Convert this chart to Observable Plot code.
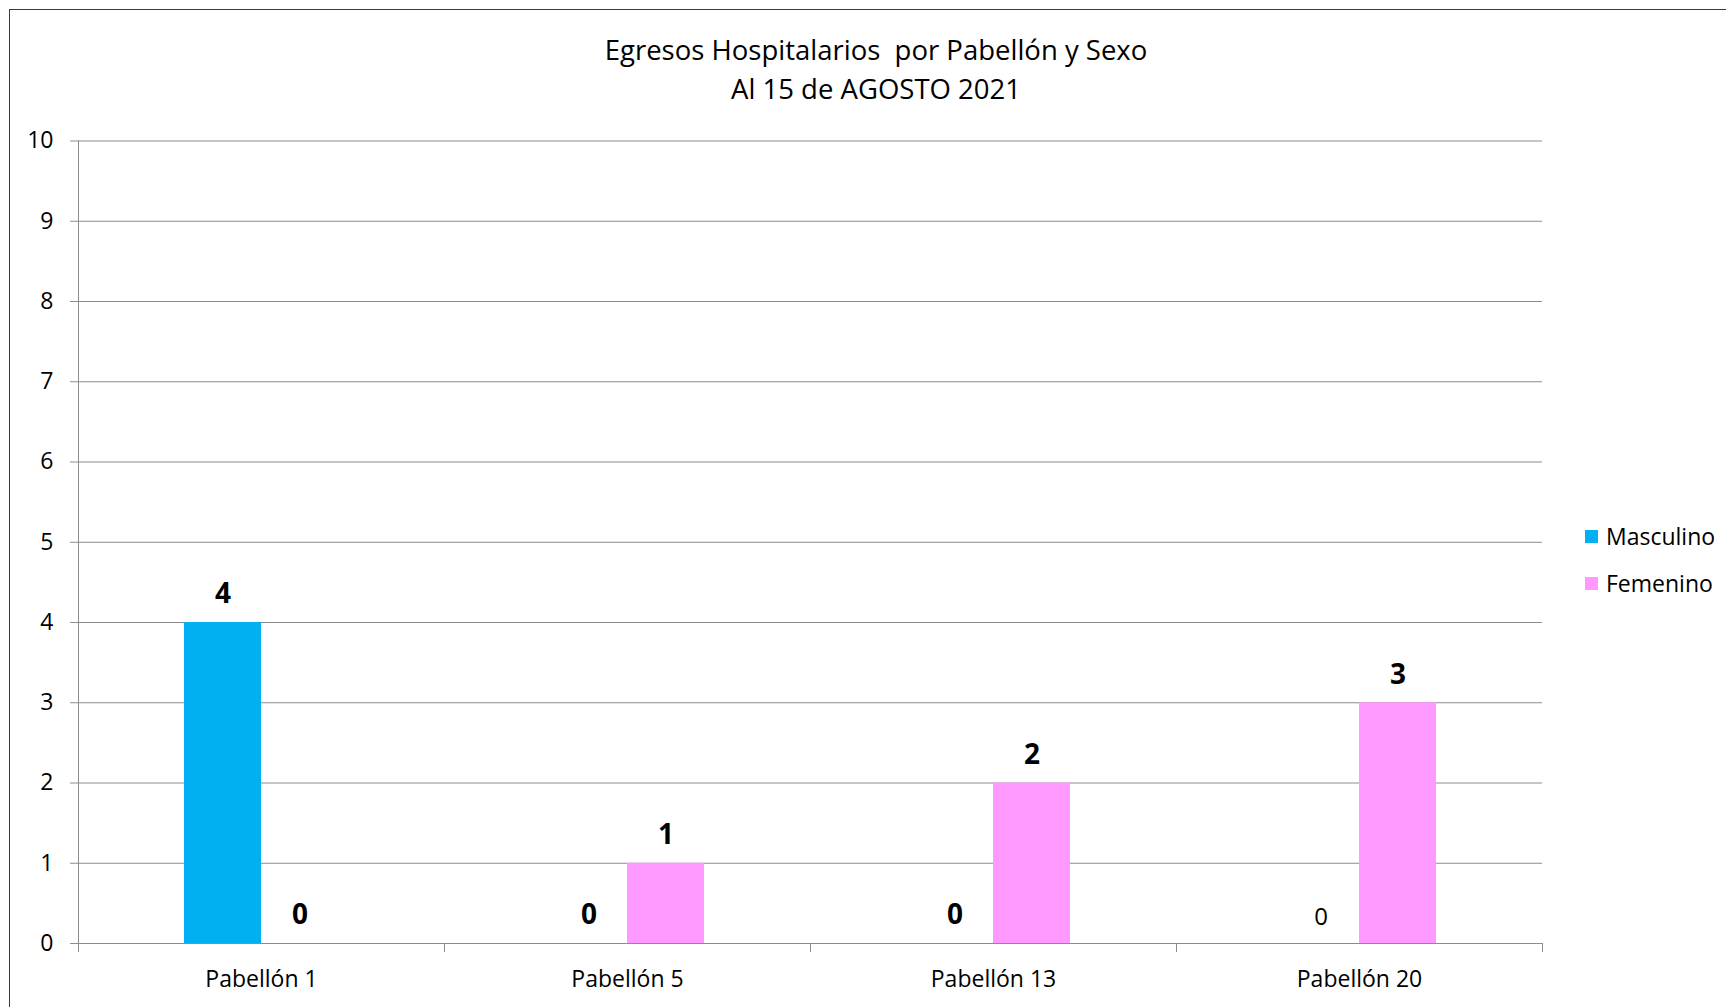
<!DOCTYPE html>
<html><head><meta charset="utf-8">
<script src="https://cdn.jsdelivr.net/npm/d3@7"></script>
<script src="https://cdn.jsdelivr.net/npm/@observablehq/plot@0.6"></script>
<style>
body{margin:0;background:#fff;font-family:"Open Sans",sans-serif;}
#wrap{position:relative;width:1726px;height:1007px;overflow:hidden;background:#fff}
#border{position:absolute;left:9px;top:9px;width:1800px;height:1100px;border-left:1.5px solid #3a3a3a;border-top:1.5px solid #3a3a3a;z-index:5;pointer-events:none}
#title{position:absolute;left:9px;width:1734px;top:31px;text-align:center;font-size:27.5px;line-height:38.5px;color:#000}
#chart{position:absolute;left:0;top:105px}
.item{position:absolute;left:1585px;display:flex;align-items:center;font-size:23px;line-height:30px;white-space:nowrap;color:#000}
.sw{width:13px;height:13px;margin-right:8px;flex:none}
</style>
</head><body>
<div id="wrap">
  <div id="chart"></div>
  <div id="title">Egresos Hospitalarios&nbsp; por Pabellón y Sexo<br>Al 15 de AGOSTO 2021</div>
  <div id="legend"></div>
  <div id="border"></div>
</div>
<script>
const pabellones = ["Pabellón 1", "Pabellón 5", "Pabellón 13", "Pabellón 20"];
const series = ["Masculino", "Femenino"];
const masculino = [4, 0, 0, 0];
const femenino = [0, 1, 2, 3];
const yTicks = [0, 1, 2, 3, 4, 5, 6, 7, 8, 9, 10];
const colors = ["#00B0F0", "#FF99FF"];

const values = [masculino, femenino];
const rows = pabellones.flatMap((p, i) => series.map((s, j) => ({pab: p, sexo: s, value: values[j][i]})));

const W = 1726, H = 902, mt = 35.5, mb = 64, ml = 78, mr = 184;
const innerH = H - mt - mb;
const grey = "#8c8c8c";
const isPlain = d => d.pab === pabellones[3] && d.sexo === series[0];

const chart = Plot.plot({
  width: W, height: H,
  marginTop: mt, marginBottom: mb, marginLeft: ml, marginRight: mr,
  style: {fontFamily: "Open Sans", background: "transparent", color: "black", overflow: "visible"},
  fx: {domain: pabellones, padding: 0, label: null},
  x: {domain: series, paddingInner: 0, paddingOuter: 1.37, axis: null},
  y: {domain: [0, 10], label: null},
  color: {domain: series, range: colors},
  marks: [
    Plot.gridY(yTicks, {stroke: grey, strokeOpacity: 1}),
    Plot.frame({anchor: "left", stroke: grey, insetTop: innerH, insetBottom: -8}),
    Plot.frame({anchor: "right", stroke: grey, insetTop: innerH, insetBottom: -8}),
    Plot.frame({anchor: "left", stroke: grey, facet: "super", insetBottom: -8}),
    Plot.barY(rows, {fx: "pab", x: "sexo", y: "value", fill: "sexo"}),
    Plot.ruleY([0], {stroke: grey}),
    Plot.text(rows.filter(d => !isPlain(d)), {fx: "pab", x: "sexo", y: "value", text: d => String(d.value), dy: -28, fontSize: 28, fontWeight: "bold", fill: "black"}),
    Plot.text(rows.filter(isPlain), {fx: "pab", x: "sexo", y: "value", text: d => String(d.value), dy: -26, fontSize: 24, fill: "black"}),
    Plot.axisY(yTicks, {tickSize: 8, tickPadding: 17, fontSize: 23, stroke: grey, fill: "black", label: null, tickFormat: "d"}),
    Plot.axisFx({anchor: "bottom", tickSize: 0, tickPadding: 27, fontSize: 23, label: null, fill: "black"})
  ]
});
document.getElementById("chart").appendChild(chart);

const legend = document.getElementById("legend");
const legendTops = [521, 568];
series.forEach((s, i) => {
  const item = document.createElement("div");
  item.className = "item";
  item.style.top = legendTops[i] + "px";
  const sw = document.createElement("span");
  sw.className = "sw";
  sw.style.background = colors[i];
  item.appendChild(sw);
  item.appendChild(document.createTextNode(s));
  legend.appendChild(item);
});
</script>
</body></html>
